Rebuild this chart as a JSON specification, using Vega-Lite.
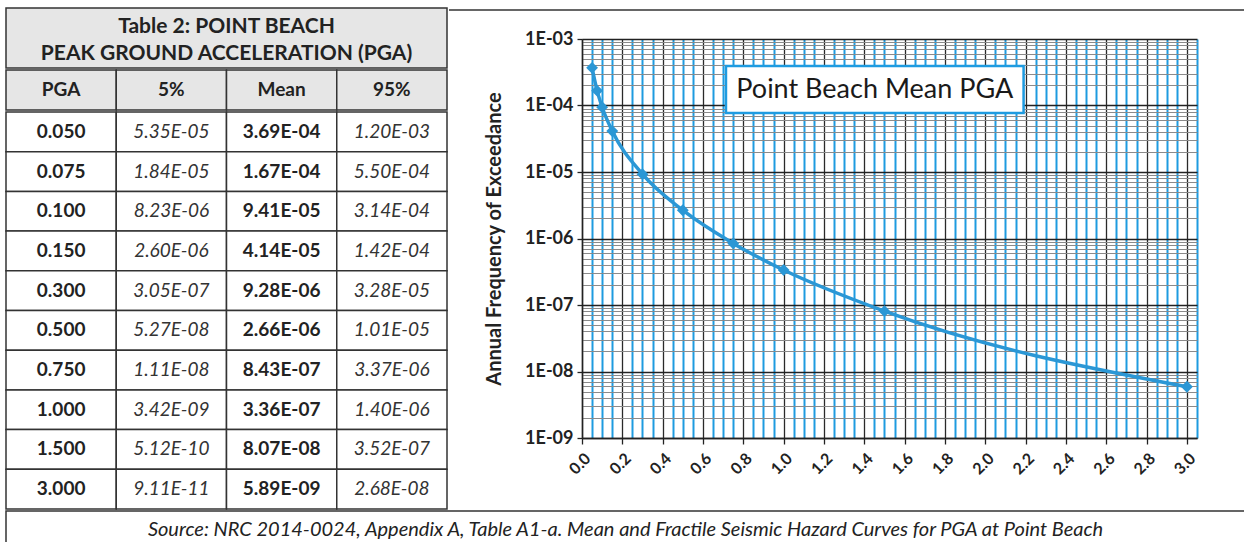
{
  "$schema": "https://vega.github.io/schema/vega-lite/v6.json",
  "background": "white",
  "padding": {"left": 5, "top": 7, "right": 0, "bottom": 0},
  "datasets": {
    "pga": [
      {"PGA": "0.050", "5%": "5.35E-05", "Mean": "3.69E-04", "95%": "1.20E-03"},
      {"PGA": "0.075", "5%": "1.84E-05", "Mean": "1.67E-04", "95%": "5.50E-04"},
      {"PGA": "0.100", "5%": "8.23E-06", "Mean": "9.41E-05", "95%": "3.14E-04"},
      {"PGA": "0.150", "5%": "2.60E-06", "Mean": "4.14E-05", "95%": "1.42E-04"},
      {"PGA": "0.300", "5%": "3.05E-07", "Mean": "9.28E-06", "95%": "3.28E-05"},
      {"PGA": "0.500", "5%": "5.27E-08", "Mean": "2.66E-06", "95%": "1.01E-05"},
      {"PGA": "0.750", "5%": "1.11E-08", "Mean": "8.43E-07", "95%": "3.37E-06"},
      {"PGA": "1.000", "5%": "3.42E-09", "Mean": "3.36E-07", "95%": "1.40E-06"},
      {"PGA": "1.500", "5%": "5.12E-10", "Mean": "8.07E-08", "95%": "3.52E-07"},
      {"PGA": "3.000", "5%": "9.11E-11", "Mean": "5.89E-09", "95%": "2.68E-08"}
    ],
    "curve": [
      {"pga": 0.05, "mean": 3.69e-4},
      {"pga": 0.075, "mean": 1.67e-4},
      {"pga": 0.1, "mean": 9.41e-5},
      {"pga": 0.15, "mean": 4.14e-5},
      {"pga": 0.3, "mean": 9.28e-6},
      {"pga": 0.5, "mean": 2.66e-6},
      {"pga": 0.75, "mean": 8.43e-7},
      {"pga": 1.0, "mean": 3.36e-7},
      {"pga": 1.5, "mean": 8.07e-8},
      {"pga": 3.0, "mean": 5.89e-9}
    ]
  },
  "spacing": 0,
  "vconcat": [
    {
      "spacing": 0,
      "hconcat": [
        {
          "spacing": 0,
          "vconcat": [
            {
              "width": 441,
              "height": 60,
              "data": {"values": [{}]},
              "layer": [
                {"mark": {"type": "rect", "fill": "#e6e6e6", "stroke": "#333", "strokeWidth": 1.5}},
                {"mark": {"type": "text", "text": ["Table 2: POINT BEACH", "PEAK GROUND ACCELERATION (PGA)"], "font": "Lato", "fontSize": 21, "fontWeight": "bold", "lineHeight": 27, "dy": -11, "color": "#222", "align": "center", "baseline": "middle"}}
              ]
            },
            {
              "width": 441,
              "height": 40,
              "data": {"values": [{"col": "PGA"}, {"col": "5%"}, {"col": "Mean"}, {"col": "95%"}]},
              "encoding": {
                "x": {"field": "col", "type": "nominal", "sort": ["PGA", "5%", "Mean", "95%"], "scale": {"paddingInner": 0, "paddingOuter": 0}, "axis": null}
              },
              "layer": [
                {"mark": {"type": "rect", "fill": "#e6e6e6", "stroke": "#333", "strokeWidth": 1.5}},
                {"mark": {"type": "text", "font": "Lato", "fontSize": 19, "fontWeight": "bold", "color": "#222", "baseline": "middle"}, "encoding": {"text": {"field": "col"}}}
              ]
            },
            {
              "width": 441,
              "height": 397,
              "data": {"name": "pga"},
              "transform": [{"fold": ["PGA", "5%", "Mean", "95%"], "as": ["col", "val"]}],
              "encoding": {
                "x": {"field": "col", "type": "nominal", "sort": ["PGA", "5%", "Mean", "95%"], "scale": {"paddingInner": 0, "paddingOuter": 0}, "axis": null},
                "y": {"field": "PGA", "type": "nominal", "sort": null, "scale": {"paddingInner": 0, "paddingOuter": 0}, "axis": null}
              },
              "layer": [
                {"mark": {"type": "rect", "fill": "white", "stroke": "#333", "strokeWidth": 1.5}},
                {
                  "transform": [{"filter": {"field": "col", "oneOf": ["PGA", "Mean"]}}],
                  "mark": {"type": "text", "font": "Lato", "fontSize": 19, "fontWeight": "bold", "color": "#222", "baseline": "middle"},
                  "encoding": {"text": {"field": "val"}}
                },
                {
                  "transform": [{"filter": {"field": "col", "oneOf": ["5%", "95%"]}}],
                  "mark": {"type": "text", "font": "Lato", "fontSize": 19, "fontStyle": "italic", "color": "#333", "baseline": "middle"},
                  "encoding": {"text": {"field": "val"}}
                }
              ]
            }
          ]
        },
        {
          "spacing": 0,
          "vconcat": [
            {
              "width": 615,
              "height": 1,
              "data": {"values": []},
              "mark": "point"
            },
            {
              "width": 615,
              "height": 399,
              "resolve": {"axis": {"x": "independent"}},
              "layer": [
                {
                  "data": {"values": [{}]},
                  "mark": {"type": "rule", "color": "#333", "strokeWidth": 1.5, "clip": false},
                  "encoding": {
                    "x": {
                      "datum": -0.6596, "type": "quantitative", "title": null,
                      "scale": {"domain": [0, 3.05], "nice": false, "zero": false},
                      "axis": {
                        "orient": "top", "title": null,
                        "values": [0.05, 0.1, 0.15, 0.25, 0.3, 0.35, 0.45, 0.5, 0.55, 0.65, 0.7, 0.75, 0.85, 0.9, 0.95, 1.05, 1.1, 1.15, 1.25, 1.3, 1.35, 1.45, 1.5, 1.55, 1.65, 1.7, 1.75, 1.85, 1.9, 1.95, 2.05, 2.1, 2.15, 2.25, 2.3, 2.35, 2.45, 2.5, 2.55, 2.65, 2.7, 2.75, 2.85, 2.9, 2.95, 3.05],
                        "grid": true, "gridColor": "#1E9BE0", "gridWidth": 2, "gridOpacity": 1,
                        "labels": false, "ticks": false, "domain": false
                      }
                    },
                    "x2": {"datum": 3.288},
                    "y": {"datum": 0.002729, "type": "quantitative", "title": "Annual Frequency of Exceedance"}
                  }
                },
                {
                  "data": {"name": "curve"},
                  "mark": {"type": "line", "interpolate": "monotone", "color": "#2B97D5", "strokeWidth": 3.5},
                  "encoding": {
                    "x": {
                      "field": "pga", "type": "quantitative", "title": null,
                      "scale": {"domain": [0, 3.05], "nice": false, "zero": false},
                      "axis": {
                        "orient": "bottom", "title": null,
                        "values": [0, 0.2, 0.4, 0.6, 0.8, 1, 1.2, 1.4, 1.6, 1.8, 2, 2.2, 2.4, 2.6, 2.8, 3],
                        "grid": true, "gridOpacity": 1, "gridColor": "#2a2a2a", "gridWidth": 1.3,
                        "domainColor": "#222", "domainWidth": 1.5,
                        "tickColor": "#222", "tickWidth": 1.3, "tickSize": 6,
                        "format": ".1f",
                        "labelAngle": -45, "labelFont": "Lato", "labelFontSize": 16, "labelFontWeight": "bold", "labelColor": "#222",
                        "labelPadding": 6, "labelOverlap": false, "labelFlush": false
                      }
                    },
                    "y": {
                      "field": "mean", "type": "quantitative", "title": "Annual Frequency of Exceedance",
                      "scale": {"type": "log", "domain": [1e-9, 1e-3], "nice": false},
                      "axis": {
                        "title": "Annual Frequency of Exceedance",
                        "titleFont": "Lato", "titleFontSize": 20, "titleFontWeight": "bold", "titleColor": "#222", "titlePadding": 20,
                        "values": [1e-9, 2e-9, 3e-9, 4e-9, 5e-9, 6e-9, 7e-9, 8e-9, 9e-9, 1e-8, 2e-8, 3e-8, 4e-8, 5e-8, 6e-8, 7e-8, 8e-8, 9e-8, 1e-7, 2e-7, 3e-7, 4e-7, 5e-7, 6e-7, 7e-7, 8e-7, 9e-7, 1e-6, 2e-6, 3e-6, 4e-6, 5e-6, 6e-6, 7e-6, 8e-6, 9e-6, 1e-5, 2e-5, 3e-5, 4e-5, 5e-5, 6e-5, 7e-5, 8e-5, 9e-5, 1e-4, 2e-4, 3e-4, 4e-4, 5e-4, 6e-4, 7e-4, 8e-4, 9e-4, 1e-3],
                        "grid": true,
                        "gridOpacity": 1,
                        "gridColor": {"condition": {"test": "abs(log(datum.value)/LN10 - round(log(datum.value)/LN10)) < 0.001", "value": "#222"}, "value": "#8a8a8a"},
                        "gridWidth": {"condition": {"test": "abs(log(datum.value)/LN10 - round(log(datum.value)/LN10)) < 0.001", "value": 1.5}, "value": 1},
                        "domainColor": "#222", "domainWidth": 1.5,
                        "tickColor": "#222", "tickWidth": 1.3,
                        "tickSize": {"condition": {"test": "abs(log(datum.value)/LN10 - round(log(datum.value)/LN10)) < 0.001", "value": 5}, "value": 0},
                        "labelExpr": "abs(log(datum.value)/LN10 - round(log(datum.value)/LN10)) < 0.001 ? '1E-0' + (-round(log(datum.value)/LN10)) : ''",
                        "labelFont": "Lato", "labelFontSize": 18, "labelFontWeight": "bold", "labelColor": "#222",
                        "labelPadding": 4, "labelOverlap": false, "labelFlush": false
                      }
                    }
                  }
                },
                {
                  "data": {"name": "curve"},
                  "mark": {"type": "point", "shape": "diamond", "filled": true, "size": 140, "color": "#2B97D5", "opacity": 1},
                  "encoding": {
                    "x": {"field": "pga", "type": "quantitative", "title": null, "axis": null},
                    "y": {"field": "mean", "type": "quantitative", "title": "Annual Frequency of Exceedance"}
                  }
                },
                {
                  "data": {"values": [{}]},
                  "mark": {"type": "rect", "fill": "white", "stroke": "#1E9BE0", "strokeWidth": 2.5},
                  "encoding": {
                    "x": {"datum": 0.714, "type": "quantitative", "title": null, "axis": null},
                    "x2": {"datum": 2.19},
                    "y": {"datum": 0.000393, "type": "quantitative", "title": "Annual Frequency of Exceedance"},
                    "y2": {"datum": 0.0000771}
                  }
                },
                {
                  "data": {"values": [{}]},
                  "mark": {"type": "text", "text": "Point Beach Mean PGA", "font": "Lato", "fontSize": 27, "color": "#1a1a1a", "align": "center", "baseline": "middle"},
                  "encoding": {
                    "x": {"datum": 1.452, "type": "quantitative", "title": null, "axis": null},
                    "y": {"datum": 0.000174, "type": "quantitative", "title": "Annual Frequency of Exceedance"}
                  }
                }
              ]
            }
          ]
        }
      ]
    },
    {
      "width": 1239,
      "height": 38,
      "data": {"values": [{}]},
      "view": {"stroke": "#333", "strokeWidth": 1.5},
      "mark": {"type": "text", "text": "Source: NRC 2014-0024, Appendix A, Table A1-a. Mean and Fractile Seismic Hazard Curves for PGA at Point Beach", "font": "Lato", "fontSize": 20, "fontStyle": "italic", "color": "#222", "align": "center", "baseline": "middle"}
    }
  ],
  "config": {
    "view": {"stroke": null},
    "font": "Lato"
  }
}
